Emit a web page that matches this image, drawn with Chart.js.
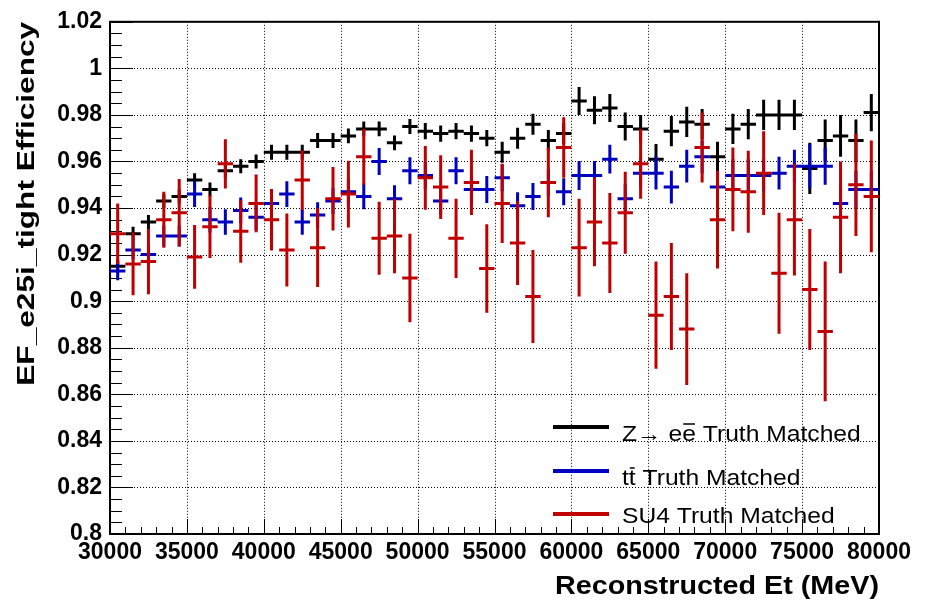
<!DOCTYPE html>
<html>
<head>
<meta charset="utf-8">
<script src="https://cdn.jsdelivr.net/npm/chart.js@4.4.1/dist/chart.umd.min.js"></script>
<style>
  html, body { margin: 0; padding: 0; background: #fff; }
  canvas { display: block; }
</style>
</head>
<body>
<canvas id="effChart" width="928" height="600"></canvas>
<script>
"use strict";

// Et bin centres (MeV), 1 GeV wide bins
const etBins = [
  30500, 31500, 32500, 33500, 34500, 35500, 36500, 37500, 38500, 39500,
  40500, 41500, 42500, 43500, 44500, 45500, 46500, 47500, 48500, 49500,
  50500, 51500, 52500, 53500, 54500, 55500, 56500, 57500, 58500, 59500,
  60500, 61500, 62500, 63500, 64500, 65500, 66500, 67500, 68500, 69500,
  70500, 71500, 72500, 73500, 74500, 75500, 76500, 77500, 78500, 79500
];
const binHalfWidth = 500;

// Z -> ee
const zeeEff = [
  0.915, 0.929, 0.934, 0.943, 0.945, 0.952, 0.948, 0.956, 0.958, 0.960,
  0.964, 0.964, 0.964, 0.969, 0.969, 0.971, 0.974, 0.974, 0.968, 0.975,
  0.973, 0.972, 0.973, 0.972, 0.970, 0.964, 0.970, 0.976, 0.969, 0.972,
  0.986, 0.982, 0.983, 0.975, 0.974, 0.961, 0.973, 0.977, 0.976, 0.962,
  0.974, 0.976, 0.980, 0.980, 0.980, 0.957, 0.969, 0.971, 0.969, 0.981
];
const zeeErr = [
  0.003, 0.003, 0.003, 0.003, 0.003, 0.003, 0.003, 0.003, 0.003, 0.003,
  0.0032, 0.0032, 0.0032, 0.0032, 0.0032, 0.0032, 0.0032, 0.0032, 0.0032, 0.0032,
  0.0035, 0.0035, 0.0035, 0.0035, 0.0035, 0.0045, 0.0045, 0.0045, 0.0045, 0.0045,
  0.006, 0.006, 0.006, 0.006, 0.006, 0.0065, 0.0065, 0.0065, 0.0065, 0.0065,
  0.0065, 0.0065, 0.0065, 0.0065, 0.0065, 0.011, 0.009, 0.009, 0.009, 0.008
];

// ttbar
const ttbarEff = [
  0.913, 0.922, 0.920, 0.928, 0.928, 0.946, 0.935, 0.934, 0.939, 0.936,
  0.942, 0.946, 0.934, 0.937, 0.943, 0.947, 0.945, 0.960, 0.944, 0.956,
  0.954, 0.943, 0.956, 0.948, 0.948, 0.953, 0.941, 0.945, 0.951, 0.947,
  0.954, 0.954, 0.961, 0.944, 0.955, 0.955, 0.949, 0.958, 0.962, 0.949,
  0.954, 0.954, 0.954, 0.955, 0.958, 0.958, 0.958, 0.942, 0.948, 0.948
];
const ttbarErr = [
  0.004, 0.004, 0.004, 0.0045, 0.0045, 0.0055, 0.0055, 0.0055, 0.0055, 0.0055,
  0.0055, 0.0055, 0.0055, 0.0055, 0.0055, 0.0055, 0.0055, 0.0058, 0.0058, 0.0058,
  0.0058, 0.0058, 0.0058, 0.0058, 0.0058, 0.0058, 0.0058, 0.0058, 0.0058, 0.0058,
  0.0062, 0.0062, 0.0062, 0.0062, 0.0062, 0.007, 0.007, 0.007, 0.007, 0.007,
  0.007, 0.007, 0.007, 0.007, 0.007, 0.0095, 0.008, 0.008, 0.008, 0.008
];

// SU4
const su4Eff = [
  0.929, 0.916, 0.917, 0.935, 0.938, 0.919, 0.932, 0.959, 0.930, 0.942,
  0.935, 0.922, 0.952, 0.923, 0.944, 0.946, 0.962, 0.927, 0.928, 0.910,
  0.953, 0.949, 0.927, 0.951, 0.914, 0.942, 0.925, 0.902, 0.951, 0.966,
  0.923, 0.934, 0.925, 0.938, 0.959, 0.894, 0.902, 0.888, 0.966, 0.935,
  0.948, 0.947, 0.955, 0.912, 0.935, 0.905, 0.887, 0.936, 0.950, 0.945
];
const su4Err = [
  0.013, 0.0135, 0.014, 0.012, 0.0145, 0.0137, 0.0135, 0.0106, 0.0135, 0.0124,
  0.0132, 0.0157, 0.0127, 0.0169, 0.0136, 0.0143, 0.012, 0.0157, 0.016, 0.019,
  0.0137, 0.0137, 0.017, 0.014, 0.019, 0.017, 0.018, 0.02, 0.015, 0.013,
  0.021, 0.019, 0.0215, 0.0176, 0.015, 0.023, 0.023, 0.024, 0.015, 0.021,
  0.018, 0.0176, 0.018, 0.026, 0.024, 0.026, 0.030, 0.024, 0.022, 0.024
];

const seriesLabels = ["Z\u2192 ee Truth Matched", "tt Truth Matched", "SU4 Truth Matched"];
// index of the character that carries an anti-particle bar
const barChar = [4, 1, -1];
const seriesColors = ["#000000", "#0000c0", "#c00000"];

const xTitle = "Reconstructed Et (MeV)";
const yTitle = "EF_e25i_tight Efficiency";

const FONT = "'Liberation Sans', Arial, Helvetica, sans-serif";

function points(values) {
  return etBins.map((x, i) => ({ x: x, y: values[i] }));
}

// draw text squeezed/stretched to a given width
function drawFitted(ctx, text, x, y, width) {
  const w = ctx.measureText(text).width;
  ctx.save();
  ctx.translate(x, y);
  ctx.scale(width / w, 1);
  ctx.fillText(text, 0, 0);
  ctx.restore();
}

const rootStyle = {
  id: "rootStyle",
  beforeDatasetsDraw(chart) {
    const { ctx, chartArea: a, scales: { x, y } } = chart;
    ctx.save();
    // dotted grid at the major ticks
    ctx.strokeStyle = "#000";
    ctx.lineWidth = 1;
    ctx.setLineDash([1, 2]);
    ctx.beginPath();
    x.ticks.forEach(t => {
      if (t.value <= x.min || t.value >= x.max) return;
      const px = Math.round(x.getPixelForValue(t.value)) + 0.5;
      ctx.moveTo(px, a.top);
      ctx.lineTo(px, a.bottom);
    });
    y.ticks.forEach(t => {
      if (t.value <= y.min + 1e-9 || t.value >= y.max - 1e-9) return;
      const py = Math.round(y.getPixelForValue(t.value)) + 0.5;
      ctx.moveTo(a.left, py);
      ctx.lineTo(a.right, py);
    });
    ctx.stroke();
    ctx.setLineDash([]);

    // tick marks, pointing inwards
    ctx.beginPath();
    for (let v = x.min; v <= x.max + 1; v += 1000) {
      const px = Math.round(x.getPixelForValue(v)) + 0.5;
      const len = (v % 5000 === 0) ? 15 : 7;
      ctx.moveTo(px, a.bottom);
      ctx.lineTo(px, a.bottom - len);
    }
    for (let k = 0; k <= 44; k++) {
      const v = y.min + k * 0.005;
      const py = Math.round(y.getPixelForValue(v)) + 0.5;
      const len = (k % 4 === 0) ? 23 : 12;
      ctx.moveTo(a.left, py);
      ctx.lineTo(a.left + len, py);
    }
    ctx.stroke();

    // frame
    ctx.lineWidth = 2;
    ctx.strokeRect(a.left, a.top, a.right - a.left, a.bottom - a.top);
    ctx.restore();
  },
  afterDatasetsDraw(chart) {
    const { ctx, scales: { x, y } } = chart;
    ctx.save();
    ctx.lineWidth = 3;
    ctx.lineCap = "butt";
    chart.data.datasets.forEach(ds => {
      ctx.strokeStyle = ds.borderColor;
      ctx.beginPath();
      ds.data.forEach((p, i) => {
        const err = ds.errors[i];
        const px = x.getPixelForValue(p.x);
        const py = y.getPixelForValue(p.y);
        ctx.moveTo(x.getPixelForValue(p.x - binHalfWidth), py);
        ctx.lineTo(x.getPixelForValue(p.x + binHalfWidth), py);
        ctx.moveTo(px, y.getPixelForValue(p.y + err));
        ctx.lineTo(px, y.getPixelForValue(p.y - err));
      });
      ctx.stroke();
    });
    ctx.restore();
  },
  afterDraw(chart) {
    const { ctx, chartArea: a } = chart;
    ctx.save();
    ctx.fillStyle = "#000";

    // axis titles
    ctx.font = "bold 25px " + FONT;
    ctx.textAlign = "right";
    ctx.textBaseline = "alphabetic";
    drawFitted(ctx, xTitle, a.right, 594, 324);

    ctx.save();
    ctx.font = "bold 24px " + FONT;
    ctx.translate(34, a.top);
    ctx.rotate(-Math.PI / 2);
    drawFitted(ctx, yTitle, 0, 0, 364);
    ctx.restore();

    // legend
    ctx.font = "22px " + FONT;
    ctx.textAlign = "left";
    const stretch = 1.12;
    const rowY = [427, 471, 514];
    const rowBase = [441, 485, 523];
    chart.data.datasets.forEach((ds, i) => {
      ctx.strokeStyle = ds.borderColor;
      ctx.lineWidth = 4;
      ctx.beginPath();
      ctx.moveTo(553, rowY[i]);
      ctx.lineTo(609, rowY[i]);
      ctx.stroke();
      const label = seriesLabels[i];
      drawFitted(ctx, label, 622, rowBase[i], ctx.measureText(label).width * stretch);
      if (barChar[i] >= 0) {
        const x0 = 622 + ctx.measureText(label.slice(0, barChar[i])).width * stretch;
        const w = ctx.measureText(label.charAt(barChar[i])).width * stretch;
        ctx.strokeStyle = "#000";
        ctx.lineWidth = 1.5;
        ctx.beginPath();
        ctx.moveTo(x0 + 1, rowBase[i] - 17);
        ctx.lineTo(x0 + w - 1, rowBase[i] - 17);
        ctx.stroke();
      }
    });
    ctx.restore();
  }
};

const tickFont = { family: FONT, weight: "bold", size: 23 };

new Chart(document.getElementById("effChart").getContext("2d"), {
  type: "scatter",
  data: {
    datasets: [
      { label: seriesLabels[0], data: points(zeeEff), errors: zeeErr, borderColor: seriesColors[0], backgroundColor: seriesColors[0], pointRadius: 0 },
      { label: seriesLabels[1], data: points(ttbarEff), errors: ttbarErr, borderColor: seriesColors[1], backgroundColor: seriesColors[1], pointRadius: 0 },
      { label: seriesLabels[2], data: points(su4Eff), errors: su4Err, borderColor: seriesColors[2], backgroundColor: seriesColors[2], pointRadius: 0 }
    ]
  },
  options: {
    responsive: false,
    devicePixelRatio: 1,
    animation: false,
    layout: { padding: { top: 14, right: 49, left: 0, bottom: 0 } },
    plugins: { legend: { display: false }, tooltip: { enabled: false } },
    scales: {
      x: {
        type: "linear",
        min: 30000,
        max: 80000,
        grid: { display: false, drawTicks: false },
        border: { display: false },
        ticks: {
          stepSize: 5000,
          autoSkip: false,
          maxRotation: 0,
          color: "#000",
          font: tickFont,
          padding: 5,
          callback: v => String(v)
        },
        afterFit(s) { s.height = 66; }
      },
      y: {
        min: 0.8,
        max: 1.02,
        grid: { display: false, drawTicks: false },
        border: { display: false },
        ticks: {
          stepSize: 0.02,
          color: "#000",
          font: tickFont,
          padding: 8,
          callback: v => String(parseFloat(v.toFixed(2)))
        },
        afterFit(s) { s.width = 110; }
      }
    }
  },
  plugins: [rootStyle]
});
</script>
</body>
</html>
